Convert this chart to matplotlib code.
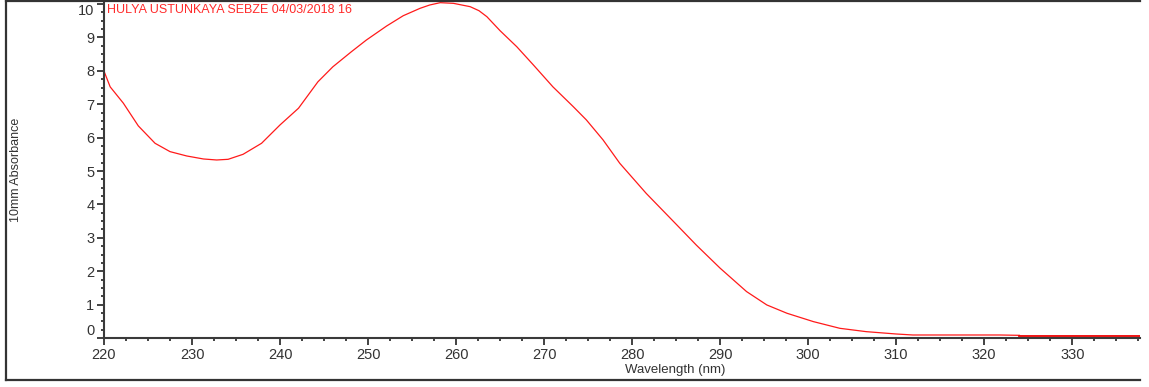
import matplotlib
matplotlib.use("Agg")
import matplotlib.pyplot as plt
from matplotlib.lines import Line2D
from matplotlib.ticker import MultipleLocator

# spectrum (nm, absorbance)
wavelength = [220, 220.7, 222.2, 223.9, 225.8, 227.5, 229.4, 231.3, 232.8, 234.1,
              235.8, 237.9, 240.0, 242.1, 244.3, 246.0, 248.1, 249.8, 252.1, 254.0,
              255.9, 257.0, 258.2, 259.7, 261.6, 262.6, 263.5, 265.0, 266.9, 268.8,
              271.0, 273.3, 274.8, 276.7, 278.6, 281.6, 285.1, 287.3, 290.0, 293.0,
              295.3, 297.6, 300.6, 303.6, 306.6, 310.0, 311.9, 315.6, 321.8, 324.0]
absorbance = [7.99, 7.52, 7.03, 6.35, 5.83, 5.58, 5.45, 5.36, 5.33, 5.35,
              5.50, 5.83, 6.38, 6.88, 7.67, 8.12, 8.57, 8.92, 9.34, 9.65,
              9.87, 9.97, 10.04, 10.02, 9.92, 9.80, 9.62, 9.20, 8.72, 8.17,
              7.52, 6.93, 6.53, 5.93, 5.23, 4.33, 3.38, 2.78, 2.09, 1.39,
              0.99, 0.74, 0.49, 0.29, 0.19, 0.12, 0.09, 0.09, 0.09, 0.08]
# flat tail drawn heavier in the reference
tail_wavelength = [324.0, 337.7]
tail_absorbance = [0.07, 0.07]

sample_label = "HULYA USTUNKAYA SEBZE 04/03/2018 16"
x_ticks = [220, 230, 240, 250, 260, 270, 280, 290, 300, 310, 320, 330]
y_ticks = list(range(0, 11))

plt.rcParams['font.family'] = ['Liberation Sans', 'DejaVu Sans']

W, H = 1149, 387
fig = plt.figure(figsize=(W / 100, H / 100), dpi=100)
ax = fig.add_axes([104 / W, 49 / H, (1140 - 104) / W, (338 - 1) / H])

ax.plot(wavelength, absorbance, color='#ff1a1a', lw=0.9)
ax.plot(tail_wavelength, tail_absorbance, color='#ee0000', lw=1.3)

ax.set_xlim(220, 337.7)
ax.set_ylim(0, 10.09)

ax.set_xticks(x_ticks)
ax.set_yticks(y_ticks)
ax.xaxis.set_minor_locator(MultipleLocator(2.5))
ax.yaxis.set_minor_locator(MultipleLocator(0.25))

for side in ['top', 'right']:
    ax.spines[side].set_visible(False)
for side in ['left', 'bottom']:
    ax.spines[side].set_color('#3a3a3a')
    ax.spines[side].set_linewidth(1.5)

ax.tick_params(which='major', direction='out', length=5, width=1.2, color='#222222',
               labelsize=10.5, labelcolor='#333333', pad=2)
ax.tick_params(which='minor', direction='out', length=2.5, width=1.2, color='#222222')

# end labels sit inside the axis range like in the reference
ylabels = ax.get_yticklabels()
ylabels[0].set_va('bottom')
ylabels[-1].set_va('top')

ax.text(0.003, 0.99, sample_label, transform=ax.transAxes, color='#ff2a2a',
        fontsize=9, ha='left', va='top')

fig.text(16 / W, 1 - 170 / H, "10mm Absorbance", rotation=90, ha='center', va='center',
         fontsize=9, color='#333333')
fig.text(675 / W, 1 - 370 / H, "Wavelength (nm)", ha='center', va='center',
         fontsize=9.5, color='#333333')

# outer frame (open on the right, as in the screenshot)
frame_kw = dict(color='#333333', lw=1.6, transform=fig.transFigure)
fig.add_artist(Line2D([6 / W, 6 / W], [1 - 1 / H, 1 - 380 / H], **frame_kw))
fig.add_artist(Line2D([6 / W, 1140 / W], [1 - 380 / H, 1 - 380 / H], **frame_kw))
fig.add_artist(Line2D([6 / W, 1140 / W], [1 - 1 / H, 1 - 1 / H], **frame_kw))

fig.savefig("out.png", dpi=100)
